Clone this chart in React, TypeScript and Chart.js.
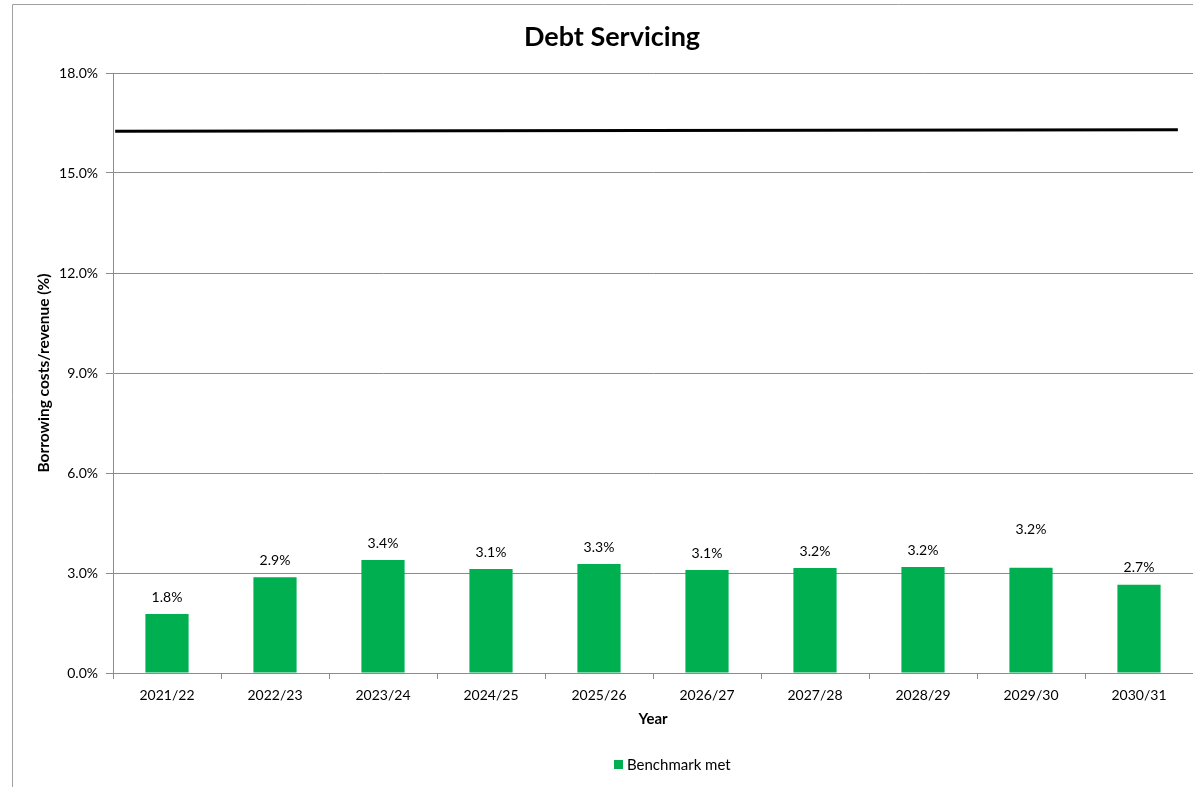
import React, { useEffect, useRef } from "react";
import { Chart, registerables } from "chart.js";

Chart.register(...registerables);

const categories = ["2021/22", "2022/23", "2023/24", "2024/25", "2025/26", "2026/27", "2027/28", "2028/29", "2029/30", "2030/31"];
const benchmarkMet = [1.77, 2.87, 3.39, 3.12, 3.27, 3.09, 3.15, 3.18, 3.16, 2.65];
const barLabels = ["1.8%", "2.9%", "3.4%", "3.1%", "3.3%", "3.1%", "3.2%", "3.2%", "3.2%", "2.7%"];
const limitLineX = [0.02, 9.86];
const limitLineY = [16.25, 16.3];
const yTicks = [0, 3, 6, 9, 12, 15, 18];

const FONT = "Lato, 'Open Sans', sans-serif";
const GRID = "#8c8c8c";
const GREEN = "#00B050";

export default function App() {
  const ref = useRef<HTMLCanvasElement | null>(null);
  useEffect(() => {
    if (!ref.current) return;
    const decor = {
      id: "decor",
      afterDraw(chart: any) {
        const ctx = chart.ctx;
        const ca = chart.chartArea;
        ctx.save();
        // outer border
        ctx.strokeStyle = "#a0a0a0";
        ctx.lineWidth = 1;
        ctx.beginPath();
        ctx.moveTo(12.5, 800);
        ctx.lineTo(12.5, 4.5);
        ctx.lineTo(1200, 4.5);
        ctx.stroke();
        // title
        ctx.fillStyle = "#000";
        ctx.textAlign = "center";
        ctx.textBaseline = "middle";
        ctx.font = `bold 27px ${FONT}`;
        ctx.fillText("Debt Servicing", 612, 37);
        // axis titles
        ctx.font = `bold 15px ${FONT}`;
        ctx.fillText("Year", 653, 719);
        ctx.save();
        ctx.translate(44, (ca.top + ca.bottom) / 2);
        ctx.rotate(-Math.PI / 2);
        ctx.font = `bold 15.5px ${FONT}`;
        ctx.fillText("Borrowing costs/revenue (%)", 0, 0);
        ctx.restore();
        // bar labels
        const meta = chart.getDatasetMeta(0);
        ctx.font = `14px ${FONT}`;
        meta.data.forEach((bar: any, i: number) => {
          const extra = i === 8 ? 21 : 0;
          ctx.fillText(barLabels[i], bar.x, bar.y - 17 - extra);
        });
        // legend
        ctx.fillStyle = GREEN;
        ctx.fillRect(614, 760, 9, 9);
        ctx.fillStyle = "#000";
        ctx.textAlign = "left";
        ctx.font = `15px ${FONT}`;
        ctx.fillText("Benchmark met", 627, 765);
        ctx.restore();
      },
    };
    const chart = new Chart(ref.current, {
      type: "bar",
      data: {
        labels: categories,
        datasets: [
          {
            type: "bar",
            label: "Benchmark met",
            data: benchmarkMet,
            backgroundColor: GREEN,
            barPercentage: 0.4,
            categoryPercentage: 1,
            grouped: false,
            order: 2,
          },
          {
            type: "line",
            label: "Benchmark",
            data: limitLineX.map((x, i) => ({ x, y: limitLineY[i] })),
            xAxisID: "x2",
            borderColor: "#000",
            borderWidth: 3,
            pointRadius: 0,
            fill: false,
            order: 1,
          } as any,
        ],
      },
      options: {
        animation: false,
        responsive: false,
        layout: { padding: { top: 73, left: 0, right: 0, bottom: 0 } },
        plugins: {
          legend: { display: false },
          title: { display: false },
          tooltip: { enabled: false },
        },
        scales: {
          x: {
            type: "category",
            offset: true,
            afterFit: (s: any) => { s.height = 114; },
            grid: { offset: true, drawOnChartArea: false, drawTicks: true, tickLength: 6, color: GRID },
            border: { color: GRID },
            ticks: { color: "#000", font: { family: FONT, size: 14 }, padding: 8, maxRotation: 0 },
          },
          x2: {
            type: "linear",
            display: false,
            offset: false,
            grid: { offset: false },
            min: 0,
            max: 10,
          },
          y: {
            min: 0,
            max: 18,
            afterFit: (s: any) => { s.width = 113; },
            afterBuildTicks: (s: any) => { s.ticks = yTicks.map((v) => ({ value: v })); },
            grid: { color: GRID, tickLength: 7 },
            border: { color: GRID },
            ticks: {
              color: "#000",
              font: { family: FONT, size: 14 },
              padding: 8,
              callback: (v: any) => Number(v).toFixed(1) + "%",
            },
          },
        },
      } as any,
      plugins: [decor],
    });
    return () => chart.destroy();
  }, []);
  return (
    <div style={{ position: "fixed", left: 0, top: 0, width: 1193, height: 787, background: "#fff" }}>
      <canvas ref={ref} width={1193} height={787} style={{ width: 1193, height: 787 }} />
    </div>
  );
}
